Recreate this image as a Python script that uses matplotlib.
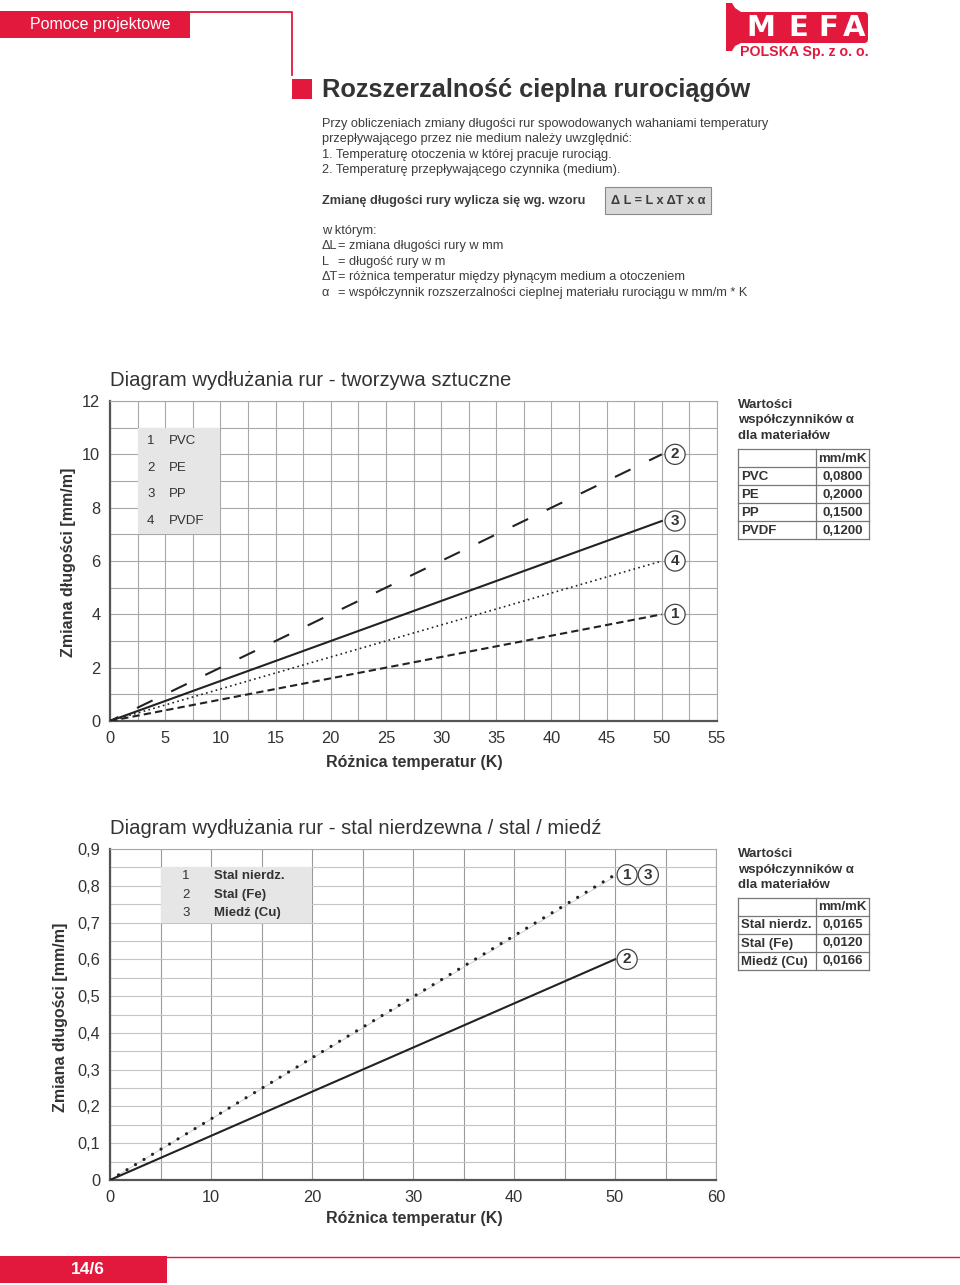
import numpy as np
import matplotlib.pyplot as plt
from matplotlib.patches import Rectangle, Polygon, FancyBboxPatch

plt.rcParams['font.family'] = ['Liberation Sans', 'DejaVu Sans']

# dane - wykres 1 (tworzywa sztuczne)
roznica_1 = [0, 50]
pvc = [0, 4.0]
pe = [0, 10.0]
pp = [0, 7.5]
pvdf = [0, 6.0]
materialy_1 = ['PVC', 'PE', 'PP', 'PVDF']
alfa_1 = ['0,0800', '0,2000', '0,1500', '0,1200']
xticks_1 = [0, 5, 10, 15, 20, 25, 30, 35, 40, 45, 50, 55]
yticks_1 = [0, 2, 4, 6, 8, 10, 12]

# dane - wykres 2 (stal / miedz)
roznica_2 = [0, 50]
stal_nierdz = [0, 0.825]
stal_fe = [0, 0.60]
miedz = [0, 0.83]
materialy_2 = ['Stal nierdz.', 'Stal (Fe)', 'Miedź (Cu)']
alfa_2 = ['0,0165', '0,0120', '0,0166']
xticks_2 = [0, 10, 20, 30, 40, 50, 60]
yticks_2 = [0, 0.1, 0.2, 0.3, 0.4, 0.5, 0.6, 0.7, 0.8, 0.9]
ylabels_2 = ['0', '0,1', '0,2', '0,3', '0,4', '0,5', '0,6', '0,7', '0,8', '0,9']

RED = '#e2183d'
DARK = '#333333'
TXT = '#3c3c3c'
GRID = '#a8a8a8'

W, H = 960, 1285
fig = plt.figure(figsize=(W / 100, H / 100), dpi=100)

# tlo strony w pikselach
bg = fig.add_axes([0, 0, 1, 1])
bg.set_xlim(0, W)
bg.set_ylim(H, 0)
bg.axis('off')

# naglowek
bg.add_patch(Rectangle((0, 11), 190, 27, color=RED, lw=0))
bg.text(30, 25, 'Pomoce projektowe', color='white', fontsize=11.5, va='center')
bg.plot([190, 292, 292], [11.5, 11.5, 75], color=RED, lw=1.3)
bg.add_patch(Rectangle((292, 79), 20, 20, color=RED, lw=0))
bg.text(322, 90, 'Rozszerzalność cieplna rurociągów', fontsize=18.3, weight='bold',
        color=DARK, va='center')

# logo
bg.add_patch(Polygon([(726, 3), (732, 3), (735, 8), (741, 12), (741, 43), (735, 46),
                      (732, 51), (726, 51)], closed=True, color=RED, lw=0))
bg.add_patch(FancyBboxPatch((738, 12), 130, 31, boxstyle='round,pad=0,rounding_size=4',
                            color=RED, lw=0))
for lit, xl in zip('MEFA', [761, 798, 828, 854]):
    bg.text(xl, 28.5, lit, color='white', fontsize=21, weight='bold', ha='center', va='center',
            family='DejaVu Sans')
bg.text(740, 52, 'POLSKA Sp. z o. o.', color=RED, fontsize=10.2, weight='bold', va='center')

# tekst wstepu
wstep = ['Przy obliczeniach zmiany długości rur spowodowanych wahaniami temperatury',
         'przepływającego przez nie medium należy uwzględnić:',
         '1. Temperaturę otoczenia w której pracuje rurociąg.',
         '2. Temperaturę przepływającego czynnika (medium).']
for i, linia in enumerate(wstep):
    bg.text(322, 124 + i * 15.4, linia, fontsize=9.2, color=TXT, va='center')
bg.text(322, 201, 'Zmianę długości rury wylicza się wg. wzoru', fontsize=9.2, weight='bold',
        color=TXT, va='center')
bg.add_patch(Rectangle((605, 187), 106, 27, fc='#d9d9d9', ec='#8a8a8a', lw=0.8))
bg.text(658, 201, 'Δ L = L x ΔT x α', fontsize=9.2, weight='bold', color=TXT,
        ha='center', va='center')
bg.text(322, 231, 'w którym:', fontsize=9.2, color=TXT, va='center')
symbole = ['ΔL', 'L', 'ΔT', 'α']
opisy = ['= zmiana długości rury w mm',
         '= długość rury w m',
         '= różnica temperatur między płynącym medium a otoczeniem',
         '= współczynnik rozszerzalności cieplnej materiału rurociągu w mm/m * K']
for i, (s, o) in enumerate(zip(symbole, opisy)):
    bg.text(322, 246 + i * 15.6, s, fontsize=9.2, color=TXT, va='center')
    bg.text(338, 246 + i * 15.6, o, fontsize=9.2, color=TXT, va='center')

# stopka
bg.add_patch(Rectangle((0, 1256), 167, 27, color=RED, lw=0))
bg.plot([167, 960], [1256.5, 1256.5], color=RED, lw=1)
bg.text(88, 1270, '14/6', color='white', fontsize=12.5, weight='bold', ha='center', va='center')


def tabela(y0, nazwy, wartosci):
    bg.text(738, y0, 'Wartości', fontsize=9.5, weight='bold', color=DARK, va='center')
    bg.text(738, y0 + 15.5, 'współczynników α', fontsize=9.5, weight='bold', color=DARK, va='center')
    bg.text(738, y0 + 31, 'dla materiałów', fontsize=9.5, weight='bold', color=DARK, va='center')
    top = y0 + 44
    n = len(nazwy) + 1
    for k in range(n + 1):
        bg.plot([738, 869], [top + 18 * k] * 2, color='#777777', lw=0.9)
    bg.plot([738, 738], [top, top + 18 * n], color='#777777', lw=0.9)
    bg.plot([816, 816], [top, top + 18 * n], color='#777777', lw=0.9)
    bg.plot([869, 869], [top, top + 18 * n], color='#777777', lw=0.9)
    bg.text(842.5, top + 9.5, 'mm/mK', fontsize=9.5, weight='bold', color=DARK,
            ha='center', va='center')
    for k, (nm, wv) in enumerate(zip(nazwy, wartosci)):
        yy = top + 18 * (k + 1) + 9.5
        bg.text(741, yy, nm, fontsize=9.5, weight='bold', color=DARK, va='center')
        bg.text(842.5, yy, wv, fontsize=9.5, weight='bold', color=DARK, ha='center', va='center')


tabela(405, materialy_1, alfa_1)
tabela(854, materialy_2, alfa_2)


def styl_osi(ax):
    ax.set_facecolor('white')
    ax.grid(which='both', color=GRID, lw=0.8, zorder=0)
    ax.set_axisbelow(True)
    ax.tick_params(which='both', length=0, labelsize=11.8, labelcolor=DARK, pad=7)
    for s in ['top', 'right']:
        ax.spines[s].set_color(GRID)
        ax.spines[s].set_linewidth(0.8)
    for s in ['left', 'bottom']:
        ax.spines[s].set_color('#555555')
        ax.spines[s].set_linewidth(1.6)


def kolko(ax, x, y, t):
    ax.text(x, y, t, ha='center', va='center', fontsize=11, weight='bold', color=DARK, zorder=5,
            bbox=dict(boxstyle='circle,pad=0.2', fc='white', ec='#444444', lw=0.9))


# wykres 1
ax1 = fig.add_axes([110 / W, 1 - 721 / H, 607 / W, 320 / H])
ax1.set_xlim(0, 55)
ax1.set_ylim(0, 12)
ax1.set_xticks(xticks_1)
ax1.set_xticks(np.arange(0, 55.1, 2.5), minor=True)
ax1.set_yticks(yticks_1)
ax1.set_yticks(np.arange(0, 12.1, 1), minor=True)
styl_osi(ax1)
ax1.add_patch(Rectangle((2.5, 7), 7.5, 4, fc='#e6e6e6', ec='none', zorder=2))
for k, nm in enumerate(materialy_1):
    ax1.text(3.7, 10.5 - k, str(k + 1), fontsize=9.5, color=DARK, ha='center', va='center', zorder=3)
    ax1.text(5.3, 10.5 - k, nm, fontsize=9.5, color=DARK, va='center', zorder=3)
ax1.plot(roznica_1, pvc, color='#222222', lw=1.5, ls=(0, (3.5, 2)), zorder=4)
ax1.plot(roznica_1, pe, color='#222222', lw=1.5, ls=(3.8, (8.3, 9.9)), zorder=4)
ax1.plot(roznica_1, pp, color='#222222', lw=1.5, zorder=4)
ax1.plot(roznica_1, pvdf, color='#222222', lw=1.2, ls=(0, (1, 2)), zorder=4)
kolko(ax1, 51.2, pe[-1], '2')
kolko(ax1, 51.2, pp[-1], '3')
kolko(ax1, 51.2, pvdf[-1], '4')
kolko(ax1, 51.2, pvc[-1], '1')
bg.text(110, 380, 'Diagram wydłużania rur - tworzywa sztuczne', fontsize=14.6, color=DARK, va='center')
bg.text(68, 562, 'Zmiana długości [mm/m]', fontsize=11.5, weight='bold', color=DARK,
        rotation=90, ha='center', va='center')
bg.text(414, 763, 'Różnica temperatur (K)', fontsize=11.5, weight='bold', color=DARK,
        ha='center', va='center')

# wykres 2
ax2 = fig.add_axes([110 / W, 1 - 1180 / H, 606 / W, 331 / H])
ax2.set_xlim(0, 60)
ax2.set_ylim(0, 0.9)
ax2.set_xticks(xticks_2)
ax2.set_xticks(np.arange(0, 60.1, 5), minor=True)
ax2.set_yticks(yticks_2)
ax2.set_yticklabels(ylabels_2)
ax2.set_yticks(np.arange(0, 0.901, 0.05), minor=True)
styl_osi(ax2)
ax2.grid(which='both', axis='y', color='#c4c4c4', lw=0.8)
ax2.grid(which='both', axis='x', color='#9a9a9a', lw=0.8)
ax2.add_patch(Rectangle((5, 0.70), 15, 0.15, fc='#e6e6e6', ec='none', zorder=2))
for k, nm in enumerate(materialy_2):
    ax2.text(7.5, 0.826 - k * 0.05, str(k + 1), fontsize=9.5, color=DARK, ha='center',
             va='center', zorder=3)
    ax2.text(10.3, 0.826 - k * 0.05, nm, fontsize=9.5, weight='bold', color=DARK,
             va='center', zorder=3)
ax2.plot(roznica_2, stal_fe, color='#222222', lw=1.5, zorder=4)
ax2.plot(roznica_2, stal_nierdz, color='#c8c8c8', lw=0.6, zorder=3)
ax2.plot(roznica_2, miedz, color='#222222', lw=2.3, ls=(0, (0.01, 3.1)),
         dash_capstyle='round', zorder=4)
kolko(ax2, 51.2, miedz[-1], '1')
kolko(ax2, 53.3, miedz[-1], '3')
kolko(ax2, 51.2, stal_fe[-1], '2')
bg.text(110, 829, 'Diagram wydłużania rur - stal nierdzewna / stal / miedź', fontsize=14.6,
        color=DARK, va='center')
bg.text(60, 1017, 'Zmiana długości [mm/m]', fontsize=11.5, weight='bold', color=DARK,
        rotation=90, ha='center', va='center')
bg.text(414, 1219, 'Różnica temperatur (K)', fontsize=11.5, weight='bold', color=DARK,
        ha='center', va='center')

fig.savefig('out.png', dpi=100)
